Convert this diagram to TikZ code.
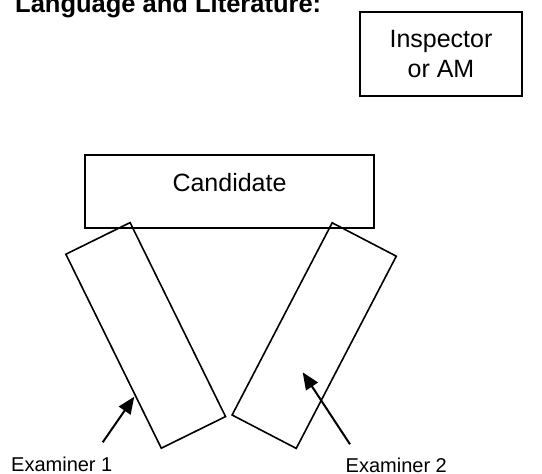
\documentclass[tikz,border=0pt]{standalone}
\usepackage{fontspec}
\setmainfont{Liberation Sans}
\usetikzlibrary{arrows.meta}
\begin{document}
\begin{tikzpicture}[x=1pt,y=-1pt,
  boxshape/.style={draw,line width=1.6pt,inner sep=0pt},
  bigtext/.style={font=\fontsize{25}{30}\selectfont},
  smalltext/.style={font=\fontsize{20}{24}\selectfont},
  pointer/.style={line width=2pt,-{Triangle[length=17pt,width=14pt]}}]
\useasboundingbox[clip] (0,0) rectangle (542,474);
% title
\node[anchor=base west,inner sep=0pt,font=\fontsize{25.5}{30}\selectfont\bfseries] (title) at (15,12.5) {Language and Literature:};
% inspector
\node[boxshape,minimum width=162pt,minimum height=84pt] (insp) at (441,54) {};
\node[bigtext,anchor=base,inner sep=0pt] (insptext1) at (441,47) {Inspector};
\node[bigtext,anchor=base,inner sep=0pt] (insptext2) at (441,77) {or AM};
% candidate
\node[boxshape,minimum width=289pt,minimum height=73pt] (cand) at (229.5,191.5) {};
\node[bigtext,anchor=base,inner sep=0pt] (candtext) at (229.5,191.7) {Candidate};
% examiner desks
\node[boxshape,minimum width=71.6pt,minimum height=216.2pt,rotate=26.2] (desk1) at (145.7,335.4) {};
\node[boxshape,minimum width=72.3pt,minimum height=216.7pt,rotate=-27.5] (desk2) at (314.2,335.6) {};
% labels
\node[smalltext,anchor=base west,inner sep=0pt] (ex1) at (11,471.7) {Examiner 1};
\node[smalltext,anchor=base west,inner sep=0pt] (ex2) at (345.5,472.3) {Examiner 2};
% arrows
\coordinate (a1s) at (102.7,442.3);
\coordinate (a1t) at (134.3,396.7);
\coordinate (a2s) at (350,444.3);
\coordinate (a2t) at (302.7,372.3);
\draw[pointer] (a1s) -- (a1t);
\draw[pointer] (a2s) -- (a2t);
\end{tikzpicture}
\end{document}
